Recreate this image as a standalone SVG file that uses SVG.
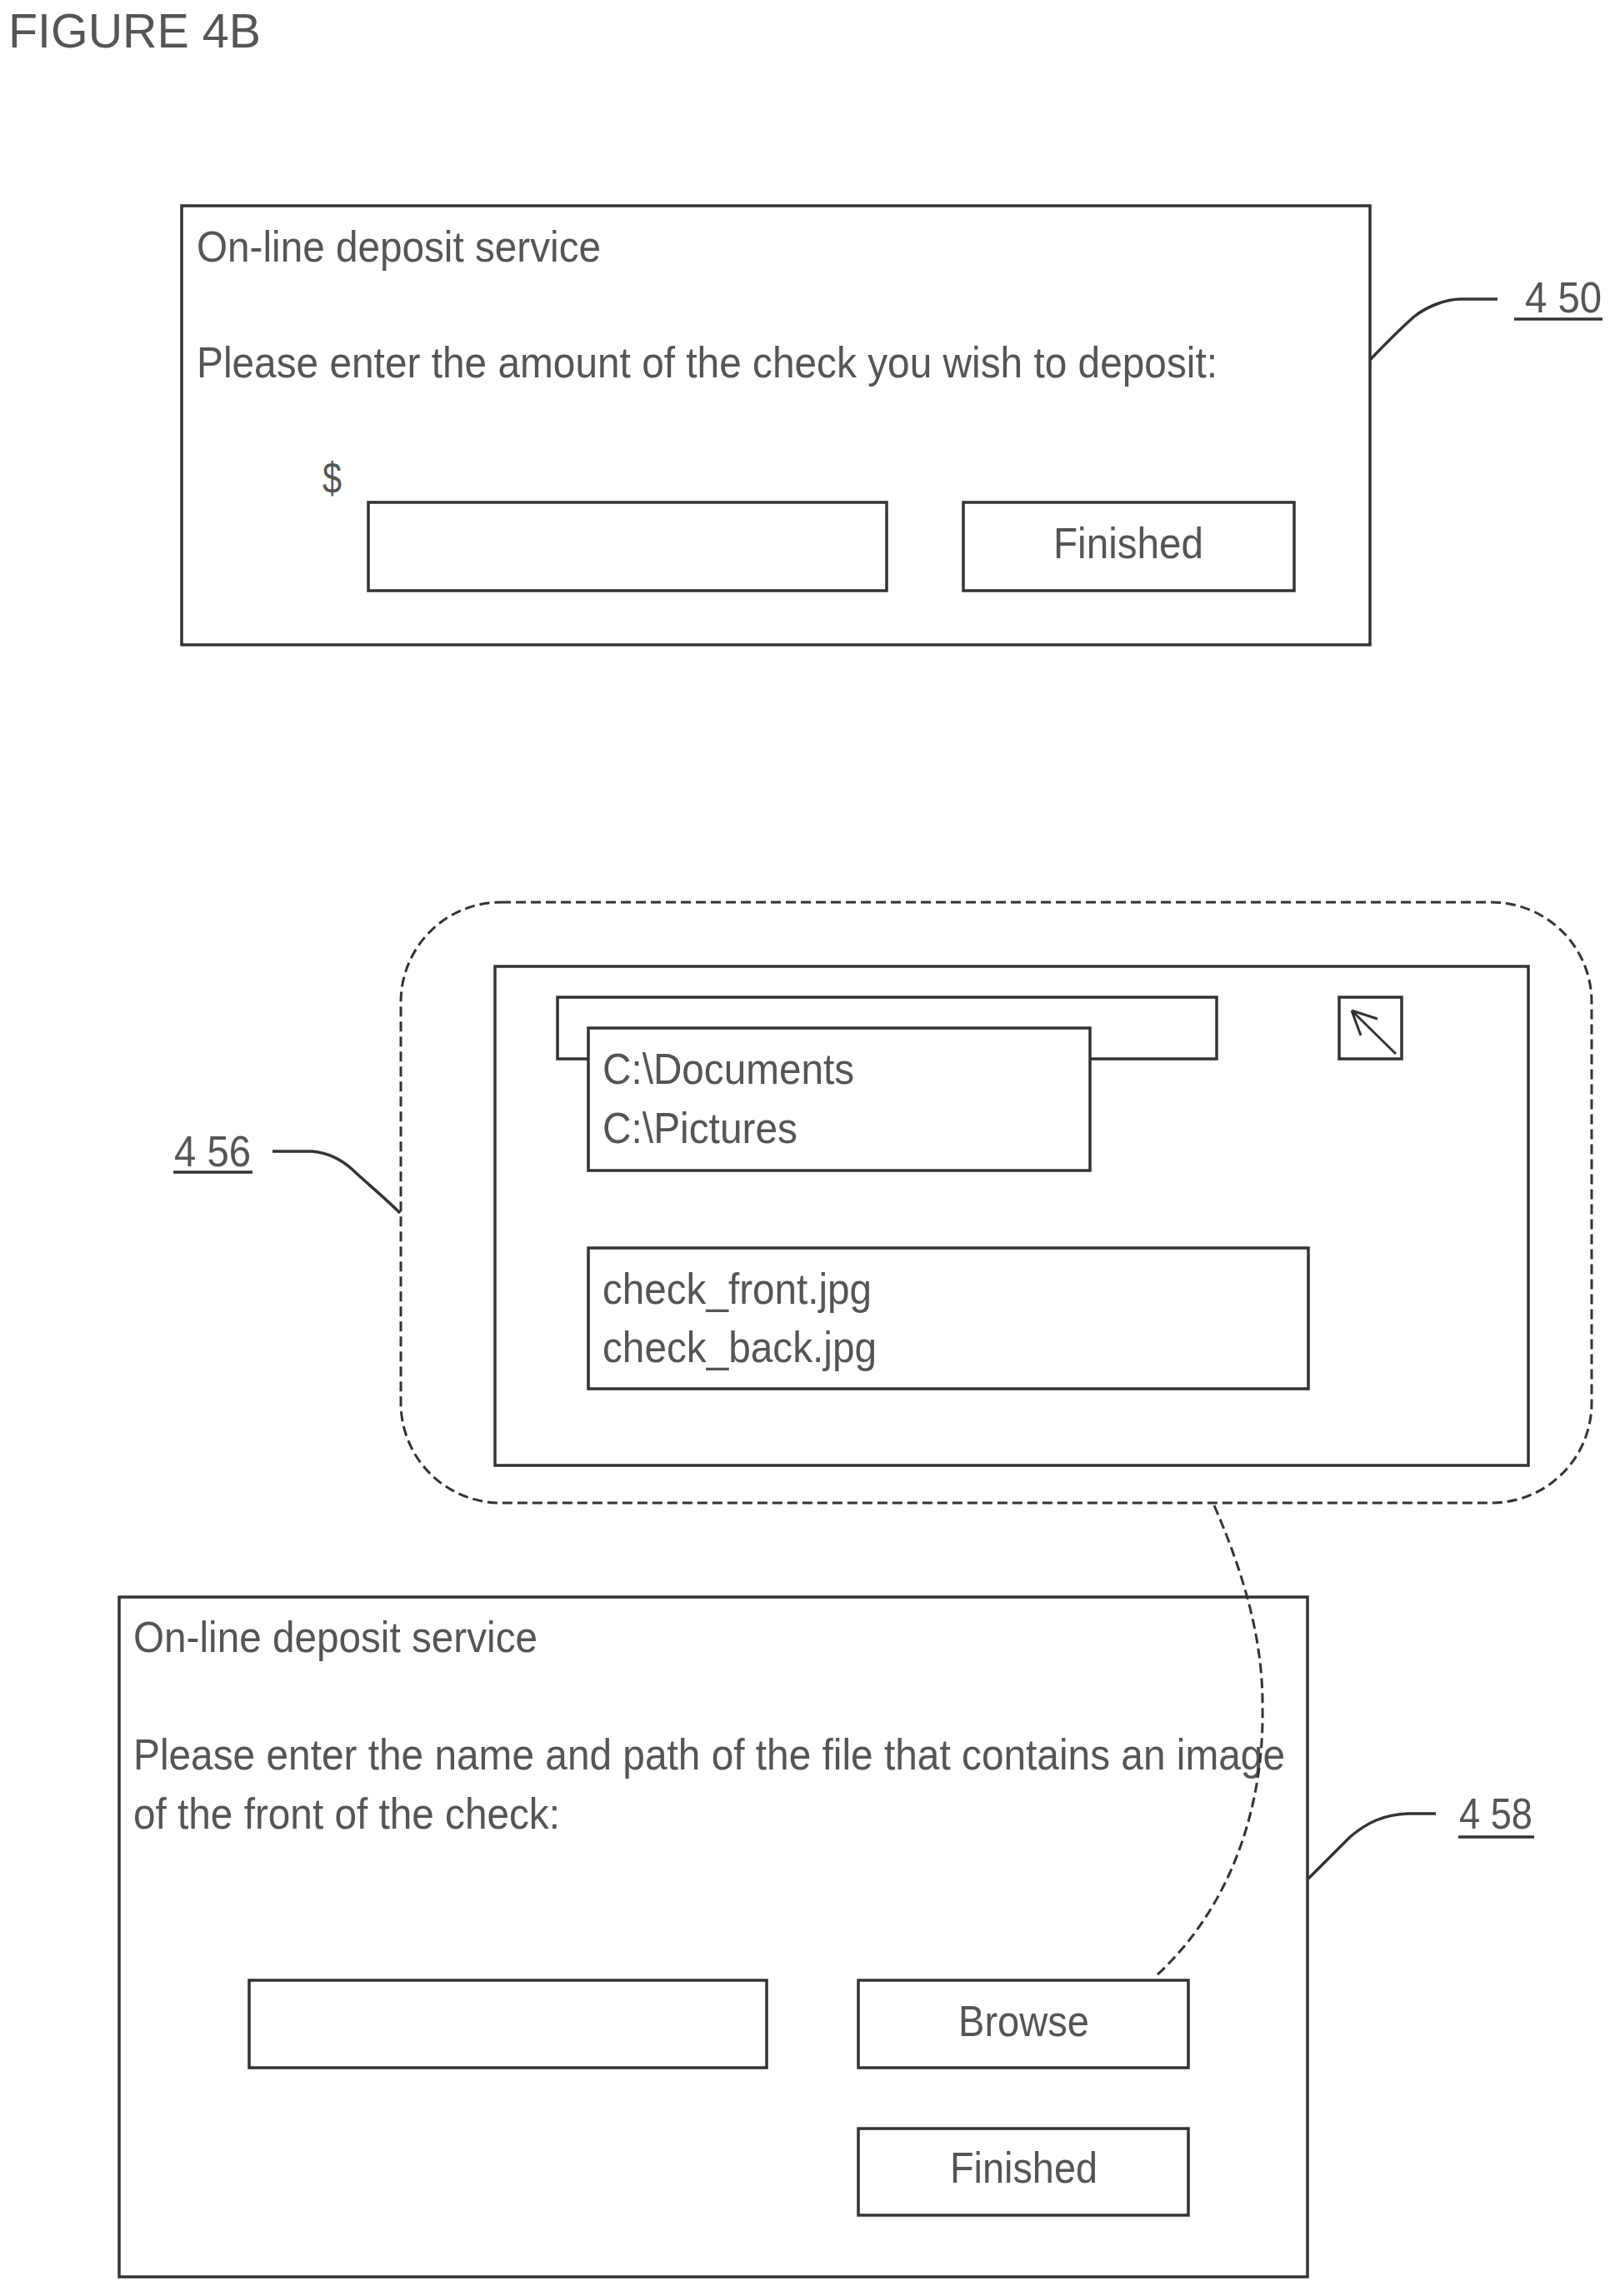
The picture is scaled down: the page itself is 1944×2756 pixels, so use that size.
<svg xmlns="http://www.w3.org/2000/svg" width="1944" height="2756" viewBox="0 0 1944 2756">
<style>
.box{fill:#fff;stroke:#333;stroke-width:3.5}
.ln{fill:none;stroke:#333;stroke-width:3.5}
.thin{fill:none;stroke:#333;stroke-width:3}
.dash{fill:none;stroke:#333;stroke-width:3;stroke-dasharray:12 6}
text{font-family:"Liberation Sans",Arial,sans-serif;font-size:52px;fill:#555}
.big{font-size:58px}
</style>
<text id="title" class="big" x="10" y="57" textLength="303" lengthAdjust="spacingAndGlyphs">FIGURE 4B</text>
<g id="node-450">
<rect class="box" x="218" y="247" width="1426" height="527"/>
<text x="236" y="314" textLength="485" lengthAdjust="spacingAndGlyphs">On-line deposit service</text>
<text x="236" y="453" textLength="1225" lengthAdjust="spacingAndGlyphs">Please enter the amount of the check you wish to deposit:</text>
<text x="387" y="592" textLength="23" lengthAdjust="spacingAndGlyphs">$</text>
<rect class="box" x="442" y="603" width="622" height="106"/>
<rect class="box" x="1156" y="603" width="397" height="106"/>
<text x="1264" y="670" textLength="180" lengthAdjust="spacingAndGlyphs">Finished</text>
</g>
<g id="label-450"><text x="1830" y="375" textLength="92" lengthAdjust="spacingAndGlyphs">4 50</text><path class="ln" d="M1817 383H1923"/></g>
<g id="node-456">
<rect class="dash" x="481" y="1083" width="1429" height="721" rx="120" ry="120"/>
<rect class="box" x="594" y="1160" width="1240" height="599"/>
<rect class="box" x="669" y="1197" width="791" height="74"/>
<rect class="box" x="1607" y="1197" width="75" height="74"/>
<path class="thin" d="M1675 1265L1622 1213M1622 1213L1653 1223M1622 1213L1633 1243"/>
<rect class="box" x="706" y="1234" width="602" height="171"/>
<text x="723" y="1301" textLength="302" lengthAdjust="spacingAndGlyphs">C:\Documents</text>
<text x="723" y="1372" textLength="234" lengthAdjust="spacingAndGlyphs">C:\Pictures</text>
<rect class="box" x="706" y="1498" width="864" height="169"/>
<text x="723" y="1565" textLength="323" lengthAdjust="spacingAndGlyphs">check_front.jpg</text>
<text x="723" y="1635" textLength="329" lengthAdjust="spacingAndGlyphs">check_back.jpg</text>
</g>
<g id="label-456"><text x="209" y="1400" textLength="92" lengthAdjust="spacingAndGlyphs">4 56</text><path class="ln" d="M208 1407H303"/></g>
<g id="node-458">
<rect class="box" x="143" y="1917" width="1426" height="816"/>
<text x="160" y="1983" textLength="485" lengthAdjust="spacingAndGlyphs">On-line deposit service</text>
<text x="160" y="2124" textLength="1382" lengthAdjust="spacingAndGlyphs">Please enter the name and path of the file that contains an image</text>
<text x="160" y="2195" textLength="512" lengthAdjust="spacingAndGlyphs">of the front of the check:</text>
<rect class="box" x="299" y="2377" width="621" height="105"/>
<rect class="box" x="1030" y="2377" width="396" height="105"/>
<text x="1150" y="2444" textLength="157" lengthAdjust="spacingAndGlyphs">Browse</text>
<rect class="box" x="1030" y="2555" width="396" height="104"/>
<text x="1140" y="2620" textLength="177" lengthAdjust="spacingAndGlyphs">Finished</text>
</g>
<g id="label-458"><text x="1751" y="2195" textLength="88" lengthAdjust="spacingAndGlyphs">4 58</text><path class="ln" d="M1750 2205H1841"/></g>
<g id="connectors">
<path class="ln" d="M1644 432C1665 410 1680 395 1697 380C1712 368 1735 359 1753 359L1797 359"/>
<path class="ln" d="M327 1382L375 1382C395 1384 410 1392 423 1404C440 1420 462 1438 480 1456"/>
<path class="ln" d="M1570 2255C1590 2235 1605 2220 1620 2205C1640 2188 1660 2178 1690 2177L1723 2177"/>
<path class="dash" d="M1457 1807C1493 1890 1516 1970 1515 2050C1517 2160 1482 2285 1387 2372"/>
</g>
</svg>
